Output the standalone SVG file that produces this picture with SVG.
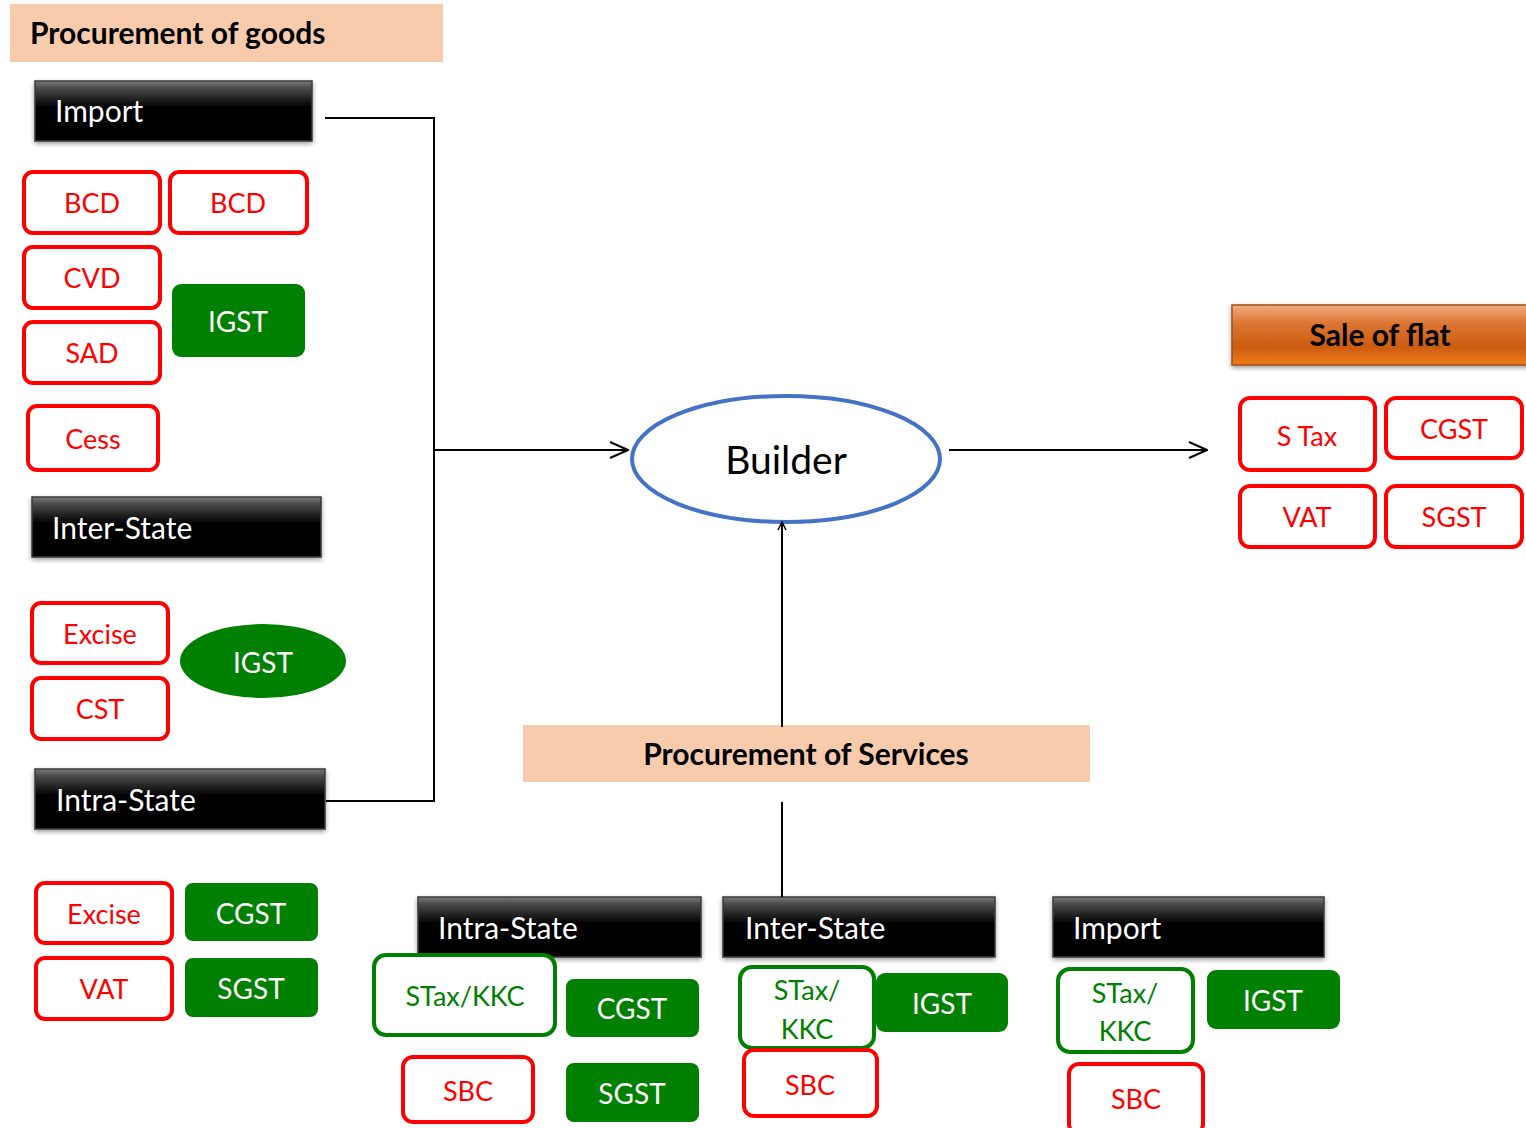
<svg xmlns="http://www.w3.org/2000/svg" width="1526" height="1128" viewBox="0 0 1526 1128">
<defs>
<linearGradient id="gBlack" x1="0" y1="0" x2="0" y2="1">
<stop offset="0" stop-color="#7a7a7a"/>
<stop offset="0.12" stop-color="#4a4a4a"/>
<stop offset="0.45" stop-color="#000"/>
<stop offset="1" stop-color="#000"/>
</linearGradient>
<linearGradient id="gOrange" x1="0" y1="0" x2="0" y2="1">
<stop offset="0" stop-color="#F4AD80"/>
<stop offset="0.3" stop-color="#DB7634"/>
<stop offset="0.7" stop-color="#CB5C10"/>
<stop offset="1" stop-color="#F07C1C"/>
</linearGradient>
<filter id="sh" x="-10%" y="-20%" width="120%" height="150%">
<feGaussianBlur in="SourceAlpha" stdDeviation="2.5"/>
<feOffset dx="0" dy="2"/>
<feComponentTransfer><feFuncA type="linear" slope="0.4"/></feComponentTransfer>
<feMerge><feMergeNode/><feMergeNode in="SourceGraphic"/></feMerge>
</filter>
<marker id="arr" viewBox="0 0 20 20" refX="19" refY="10" markerWidth="20" markerHeight="20" markerUnits="userSpaceOnUse" orient="auto">
<path d="M1,2 L19,10 L1,18" fill="none" stroke="#000" stroke-width="2"/>
</marker>
<marker id="arrS" viewBox="0 0 10 10" refX="9" refY="5" markerWidth="10" markerHeight="10" markerUnits="userSpaceOnUse" orient="auto">
<path d="M1,1 L9,5 L1,9" fill="none" stroke="#000" stroke-width="1.5"/>
</marker>
</defs>
<style>
text{font-family:Lato,"Open Sans","Liberation Sans",sans-serif;}
.hdr{fill:#F8CBAD;}
.hdrt{font-size:30px;font-weight:bold;fill:#000;}
.bar{fill:url(#gBlack);stroke:#3a3a3a;stroke-width:1.5;filter:url(#sh);}
.bart{font-size:30px;fill:#fff;}
.red{fill:#fff;stroke:#FF0000;stroke-width:4;}
.redt{font-size:27px;fill:#FF0000;text-anchor:middle;}
.gout{fill:#fff;stroke:#008000;stroke-width:4;}
.goutt{font-size:27px;fill:#008000;text-anchor:middle;}
.gfill{fill:#008000;}
.gfillt{font-size:28px;fill:#fff;text-anchor:middle;}
.ln{fill:none;stroke:#000;stroke-width:2;}
</style>

<g id="procurement-goods">
<rect class="hdr" x="10" y="4" width="433" height="58"/>
<text class="hdrt" x="30" y="44">Procurement of goods</text>
</g>

<g id="goods-import">
<rect class="bar" x="35" y="81" width="277" height="60"/>
<text class="bart" x="55" y="122">Import</text>
</g>
<g id="g-bcd1"><rect class="red" x="24" y="172" width="136" height="61" rx="9"/><text class="redt" x="92" y="213">BCD</text></g>
<g id="g-bcd2"><rect class="red" x="170" y="172" width="137" height="61" rx="9"/><text class="redt" x="238" y="213">BCD</text></g>
<g id="g-cvd"><rect class="red" x="24" y="247" width="136" height="61" rx="9"/><text class="redt" x="92" y="288">CVD</text></g>
<g id="g-sad"><rect class="red" x="24" y="322" width="136" height="61" rx="9"/><text class="redt" x="92" y="363">SAD</text></g>
<g id="g-cess"><rect class="red" x="28" y="406" width="130" height="64" rx="9"/><text class="redt" x="93" y="449">Cess</text></g>
<g id="g-igst1"><rect class="gfill" x="172" y="284" width="133" height="73" rx="9"/><text class="gfillt" x="238" y="332">IGST</text></g>

<g id="goods-inter">
<rect class="bar" x="32" y="497" width="289" height="60"/>
<text class="bart" x="52" y="539">Inter-State</text>
</g>
<g id="g-excise1"><rect class="red" x="32" y="603" width="136" height="60" rx="9"/><text class="redt" x="100" y="644">Excise</text></g>
<g id="g-cst"><rect class="red" x="32" y="678" width="136" height="61" rx="9"/><text class="redt" x="100" y="719">CST</text></g>
<g id="g-igst2"><ellipse class="gfill" cx="263" cy="661" rx="83" ry="37"/><text class="gfillt" x="263" y="673">IGST</text></g>

<g id="goods-intra">
<rect class="bar" x="35" y="769" width="290" height="60"/>
<text class="bart" x="56" y="811">Intra-State</text>
</g>
<g id="g-excise2"><rect class="red" x="36" y="883" width="136" height="60" rx="9"/><text class="redt" x="104" y="924">Excise</text></g>
<g id="g-vat"><rect class="red" x="36" y="958" width="136" height="61" rx="9"/><text class="redt" x="104" y="999">VAT</text></g>
<g id="g-cgst"><rect class="gfill" x="185" y="883" width="133" height="58" rx="8"/><text class="gfillt" x="251" y="924">CGST</text></g>
<g id="g-sgst"><rect class="gfill" x="185" y="958" width="133" height="59" rx="8"/><text class="gfillt" x="251" y="999">SGST</text></g>

<g id="builder">
<ellipse cx="786" cy="459" rx="154" ry="63" fill="#fff" stroke="#4472C4" stroke-width="4"/>
<text x="786" y="474" font-size="39" text-anchor="middle" fill="#000">Builder</text>
</g>

<g id="sale-of-flat">
<rect x="1232" y="305" width="300" height="60" fill="url(#gOrange)" stroke="#A0501A" stroke-width="1.5" filter="url(#sh)"/>
<text x="1380" y="346" font-size="30" font-weight="bold" text-anchor="middle" fill="#000">Sale of flat</text>
</g>
<g id="s-stax"><rect class="red" x="1240" y="398" width="135" height="72" rx="10"/><text class="redt" x="1307" y="446">S Tax</text></g>
<g id="s-cgst"><rect class="red" x="1386" y="398" width="136" height="60" rx="10"/><text class="redt" x="1454" y="439">CGST</text></g>
<g id="s-vat"><rect class="red" x="1240" y="486" width="135" height="61" rx="10"/><text class="redt" x="1307" y="527">VAT</text></g>
<g id="s-sgst"><rect class="red" x="1386" y="486" width="136" height="61" rx="10"/><text class="redt" x="1454" y="527">SGST</text></g>

<g id="procurement-services">
<rect class="hdr" x="523" y="725" width="567" height="57"/>
<text class="hdrt" x="806" y="765" text-anchor="middle">Procurement of Services</text>
</g>

<g id="svc-intra">
<rect class="bar" x="418" y="897" width="283" height="60"/>
<text class="bart" x="438" y="939">Intra-State</text>
</g>
<g id="si-stax"><rect class="gout" x="374" y="955" width="181" height="80" rx="12"/><text class="goutt" x="465" y="1006">STax/KKC</text></g>
<g id="si-cgst"><rect class="gfill" x="566" y="979" width="133" height="58" rx="8"/><text class="gfillt" x="632" y="1019">CGST</text></g>
<g id="si-sbc"><rect class="red" x="403" y="1057" width="130" height="65" rx="10"/><text class="redt" x="468" y="1101">SBC</text></g>
<g id="si-sgst"><rect class="gfill" x="566" y="1063" width="133" height="59" rx="8"/><text class="gfillt" x="632" y="1104">SGST</text></g>

<g id="svc-inter">
<rect class="bar" x="723" y="897" width="272" height="60"/>
<text class="bart" x="745" y="939">Inter-State</text>
</g>
<g id="se-stax"><rect class="gout" x="740" y="967" width="134" height="81" rx="12"/><text class="goutt" x="807" y="1000">STax/</text><text class="goutt" x="807" y="1039">KKC</text></g>
<g id="se-igst"><rect class="gfill" x="876" y="973" width="132" height="59" rx="9"/><text class="gfillt" x="942" y="1014">IGST</text></g>
<g id="se-sbc"><rect class="red" x="744" y="1050" width="133" height="66" rx="10"/><text class="redt" x="810" y="1095">SBC</text></g>

<g id="svc-import">
<rect class="bar" x="1053" y="897" width="271" height="60"/>
<text class="bart" x="1073" y="939">Import</text>
</g>
<g id="sm-stax"><rect class="gout" x="1058" y="969" width="135" height="83" rx="12"/><text class="goutt" x="1125" y="1003">STax/</text><text class="goutt" x="1125" y="1041">KKC</text></g>
<g id="sm-igst"><rect class="gfill" x="1207" y="970" width="133" height="59" rx="9"/><text class="gfillt" x="1273" y="1011">IGST</text></g>
<g id="sm-sbc"><rect class="red" x="1069" y="1064" width="134" height="70" rx="10"/><text class="redt" x="1136" y="1109">SBC</text></g>

<g id="connectors">
<polyline class="ln" points="325,118 434,118 434,801 326,801"/>
<line class="ln" x1="434" y1="450" x2="628" y2="450" marker-end="url(#arr)"/>
<line class="ln" x1="949" y1="450" x2="1207" y2="450" marker-end="url(#arr)"/>
<line class="ln" x1="782" y1="727" x2="782" y2="522" marker-end="url(#arrS)"/>
<line class="ln" x1="782" y1="802" x2="782" y2="897"/>
</g>
</svg>
